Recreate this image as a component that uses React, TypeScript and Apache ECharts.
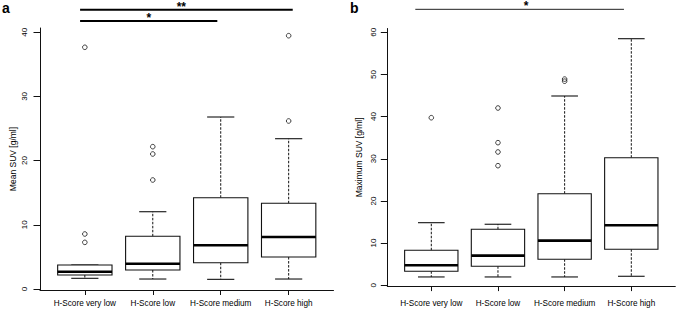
import React, { useEffect, useRef } from 'react';
import * as echarts from 'echarts';

const categories = ['H-Score very low', 'H-Score low', 'H-Score medium', 'H-Score high'];
const positions = [1, 2, 3, 4];

// box stats: [lower whisker, Q1, median, Q3, upper whisker]
const meanBoxes = [
  [1.67, 2.18, 2.69, 3.74, 3.74],
  [1.56, 2.96, 3.94, 8.21, 12.04],
  [1.51, 4.1, 6.81, 14.22, 26.79],
  [1.56, 4.98, 8.1, 13.35, 23.41],
];
const meanOutliers = [
  [1, 37.65], [1, 8.57], [1, 7.27],
  [2, 22.17], [2, 21.03], [2, 16.98],
  [4, 26.17], [4, 39.45],
];
const maxBoxes = [
  [1.97, 3.32, 4.74, 8.3, 14.84],
  [1.97, 4.51, 7.02, 13.28, 14.47],
  [1.97, 6.17, 10.58, 21.72, 44.89],
  [2.13, 8.54, 14.23, 30.26, 58.48],
];
const maxOutliers = [
  [1, 39.74],
  [2, 28.36], [2, 31.61], [2, 33.82], [2, 42.04],
  [3, 48.4], [3, 48.9],
];
const meanTicks = [0, 10, 20, 30, 40];
const maxTicks = [0, 10, 20, 30, 40, 50, 60];

// significance bars: from/to along category positions, y in axis units
const meanSig = [
  { from: 0.93, to: 2.95, y: 41.74, labelX: 1.94, label: '*' },
  { from: 0.93, to: 4.06, y: 43.5, labelX: 2.42, label: '**' },
];
const maxSig = [{ from: 0.76, to: 3.89, y: 65.45, labelX: 2.42, label: '*' }];

const FONT = '"Liberation Sans", Arial, Helvetica, sans-serif';
const INK = '#111';

function boxRender(params: any, api: any) {
  const x = api.value(0);
  const c = (v: number) => api.coord([x, v]);
  const w = api.size([0.8, 0])[0];
  const pMin = c(api.value(1));
  const pQ1 = c(api.value(2));
  const pMed = c(api.value(3));
  const pQ3 = c(api.value(4));
  const pMax = c(api.value(5));
  const cx = pMed[0];
  const half = w / 2;
  const cap = w / 4;
  const dashed = { stroke: INK, lineWidth: 1, lineDash: [2.5, 1.5] };
  const solid = { stroke: INK, lineWidth: 1.1 };
  return {
    type: 'group',
    children: [
      { type: 'line', shape: { x1: cx, y1: pQ3[1], x2: cx, y2: pMax[1] }, style: dashed },
      { type: 'line', shape: { x1: cx, y1: pQ1[1], x2: cx, y2: pMin[1] }, style: dashed },
      { type: 'line', shape: { x1: cx - cap, y1: pMax[1], x2: cx + cap, y2: pMax[1] }, style: solid },
      { type: 'line', shape: { x1: cx - cap, y1: pMin[1], x2: cx + cap, y2: pMin[1] }, style: solid },
      {
        type: 'rect',
        shape: { x: cx - half, y: pQ3[1], width: w, height: pQ1[1] - pQ3[1] },
        style: { fill: '#fff', stroke: INK, lineWidth: 1.1 },
      },
      { type: 'line', shape: { x1: cx - half, y1: pMed[1], x2: cx + half, y2: pMed[1] }, style: { stroke: '#000', lineWidth: 2.6 } },
    ],
  };
}

function xAxisFor(gridIndex: number, margin: number) {
  return {
    type: 'value',
    gridIndex,
    min: 0.34,
    max: 4.66,
    axisLine: { show: true, onZero: false, lineStyle: { color: INK, width: 1 } },
    axisTick: { show: true, customValues: positions, length: 5, lineStyle: { color: INK, width: 1 } },
    axisLabel: {
      show: true,
      customValues: positions,
      formatter: (v: number) => categories[Math.round(v) - 1] ?? '',
      fontSize: 8.2,
      fontFamily: FONT,
      color: '#000',
      margin,
    },
    splitLine: { show: false },
  };
}

function yAxisFor(gridIndex: number, min: number, max: number, ticks: number[], name: string, labelMargin: number, nameGap: number) {
  return {
    type: 'value',
    gridIndex,
    min,
    max,
    name,
    nameLocation: 'middle',
    nameGap,
    nameMoveOverlap: false,
    nameTextStyle: { fontSize: 8.5, fontFamily: FONT, color: '#000' },
    axisLine: { show: true, onZero: false, lineStyle: { color: INK, width: 1 } },
    axisTick: { show: true, customValues: ticks, length: 6.5, lineStyle: { color: INK, width: 1 } },
    axisLabel: {
      show: true,
      customValues: ticks,
      rotate: 90,
      fontSize: 8,
      fontFamily: FONT,
      color: '#000',
      margin: labelMargin,
    },
    splitLine: { show: false },
  };
}

export default function App() {
  const ref = useRef<HTMLDivElement>(null);
  useEffect(() => {
    document.body.style.margin = '0';
    if (!ref.current) return;
    const chart = echarts.init(ref.current, null, { renderer: 'svg' });
    const option: any = {
      animation: false,
      backgroundColor: '#fff',
      grid: [
        { left: 40, top: 28, width: 293.5, height: 262, outerBoundsMode: 'none', containLabel: false },
        { left: 387.3, top: 28.5, width: 288, height: 257.6, outerBoundsMode: 'none', containLabel: false },
      ],
      xAxis: [xAxisFor(0, 9), xAxisFor(1, 13)],
      yAxis: [
        yAxisFor(0, -0.15, 40.65, meanTicks, 'Mean SUV [g/ml]', 12, 22.5),
        yAxisFor(1, -0.2, 60.9, maxTicks, 'Maximum SUV [g/ml]', 9.5, 24),
      ],
      series: [
        {
          type: 'custom', xAxisIndex: 0, yAxisIndex: 0, renderItem: boxRender,
          encode: { x: 0, y: [1, 2, 3, 4, 5] },
          data: meanBoxes.map((b, i) => [positions[i], ...b]), clip: false,
        },
        {
          type: 'scatter', xAxisIndex: 0, yAxisIndex: 0, symbol: 'circle', symbolSize: 4.6,
          itemStyle: { color: 'rgba(0,0,0,0)', borderColor: INK, borderWidth: 1 },
          data: meanOutliers,
        },
        {
          type: 'custom', xAxisIndex: 1, yAxisIndex: 1, renderItem: boxRender,
          encode: { x: 0, y: [1, 2, 3, 4, 5] },
          data: maxBoxes.map((b, i) => [positions[i], ...b]), clip: false,
        },
        {
          type: 'scatter', xAxisIndex: 1, yAxisIndex: 1, symbol: 'circle', symbolSize: 4.6,
          itemStyle: { color: 'rgba(0,0,0,0)', borderColor: INK, borderWidth: 1 },
          data: maxOutliers,
        },
      ],
    };
    chart.setOption(option);

    const graphics: any[] = [];
    const addSig = (gridIndex: number, list: any[], lw: number, color: string) => {
      list.forEach((s) => {
        const p1 = chart.convertToPixel({ gridIndex } as any, [s.from, s.y]) as number[];
        const p2 = chart.convertToPixel({ gridIndex } as any, [s.to, s.y]) as number[];
        const pl = chart.convertToPixel({ gridIndex } as any, [s.labelX, s.y]) as number[];
        graphics.push({ type: 'line', shape: { x1: p1[0], y1: p1[1], x2: p2[0], y2: p2[1] }, style: { stroke: color, lineWidth: lw } });
        graphics.push({
          type: 'text', x: pl[0], y: pl[1] - 3,
          style: { text: s.label, fontSize: 12, fontWeight: 'bold', fontFamily: FONT, fill: '#000', align: 'center', verticalAlign: 'middle' },
        });
      });
    };
    addSig(0, meanSig, 2, '#000');
    addSig(1, maxSig, 1, '#222');
    graphics.push({ type: 'text', x: 2, y: 8, style: { text: 'a', fontSize: 14, fontWeight: 'bold', fontFamily: FONT, fill: '#000', align: 'left', verticalAlign: 'middle' } });
    graphics.push({ type: 'text', x: 350, y: 8, style: { text: 'b', fontSize: 14, fontWeight: 'bold', fontFamily: FONT, fill: '#000', align: 'left', verticalAlign: 'middle' } });
    chart.setOption({ graphic: graphics });

    return () => chart.dispose();
  }, []);
  return <div ref={ref} style={{ position: 'absolute', left: 0, top: 0, width: 676, height: 309 }} />;
}
